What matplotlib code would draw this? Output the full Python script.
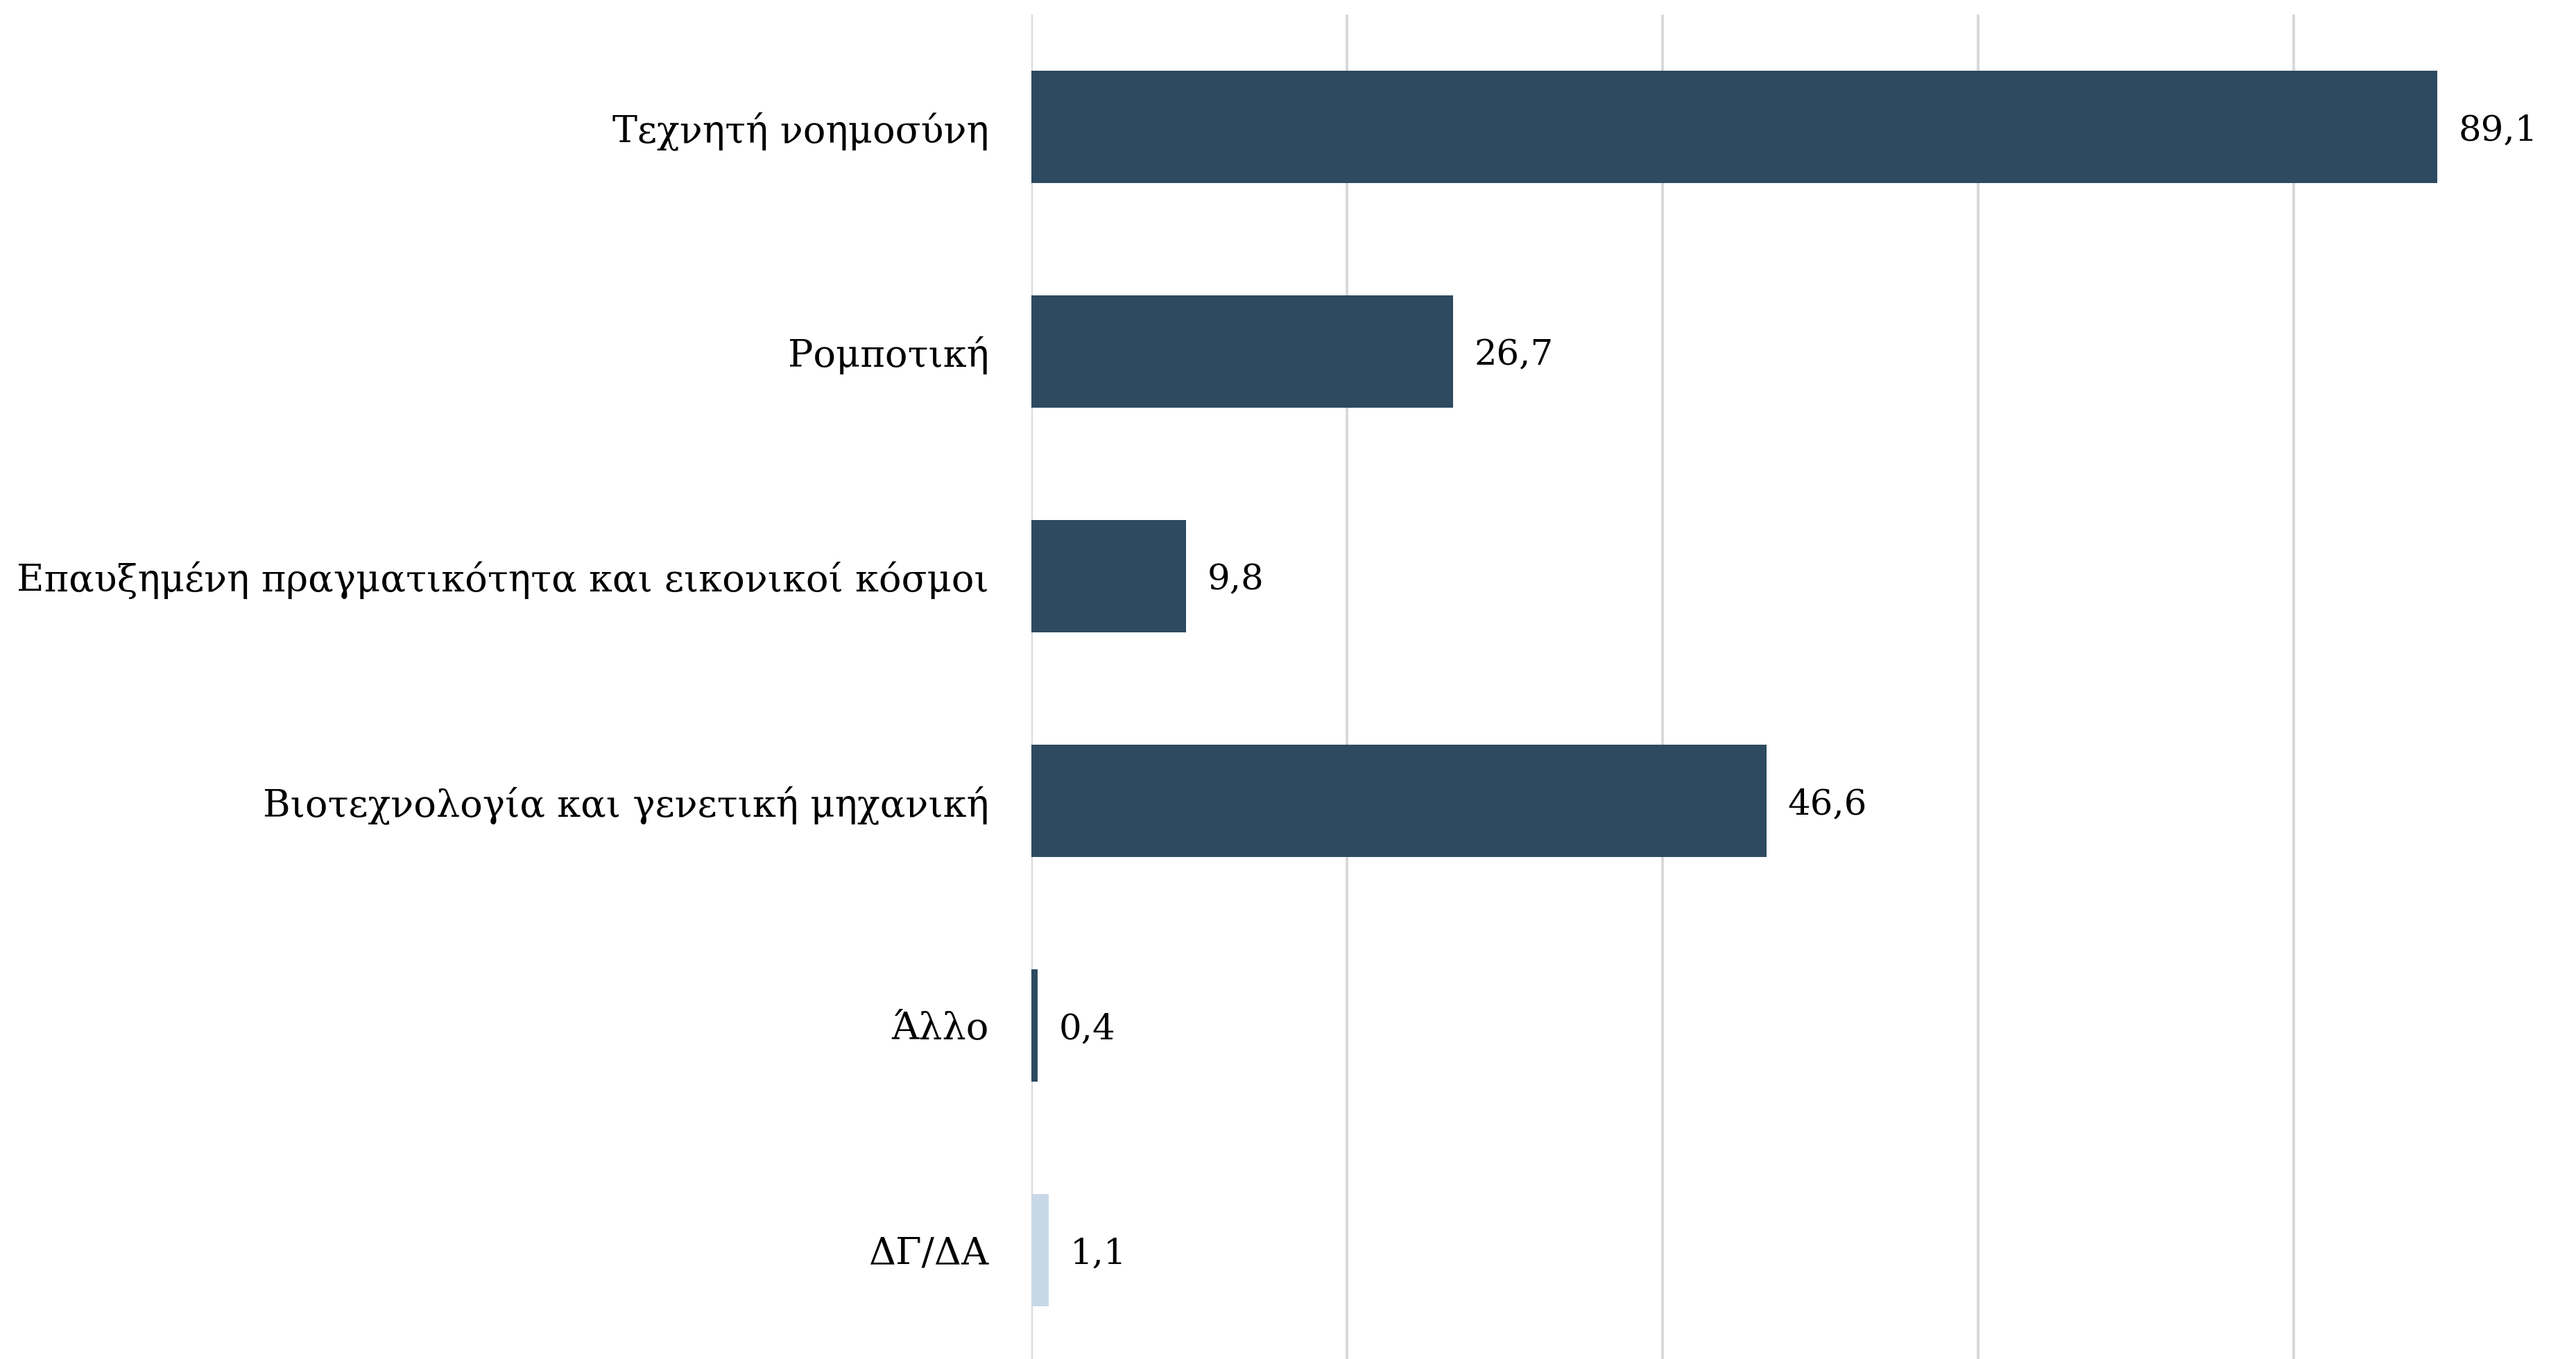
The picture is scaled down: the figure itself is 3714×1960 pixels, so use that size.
import matplotlib
matplotlib.use('Agg')
import matplotlib.pyplot as plt

# data
categories = ['Τεχνητή νοημοσύνη', 'Ρομποτική',
              'Επαυξημένη πραγματικότητα και εικονικοί κόσμοι',
              'Βιοτεχνολογία και γενετική μηχανική', 'Άλλο', 'ΔΓ/ΔΑ']
values = [89.1, 26.7, 9.8, 46.6, 0.4, 1.1]
value_labels = ['89,1', '26,7', '9,8', '46,6', '0,4', '1,1']
bar_colors = ['#2d4a60', '#2d4a60', '#2d4a60', '#2d4a60', '#2d4a60', '#c8d8e6']

plt.rcParams['font.family'] = ['DejaVu Serif']

fig = plt.figure(figsize=(18.57, 9.8), dpi=200)
ax = fig.add_axes([0.4004, 0.0, 0.6003, 0.9893])

y = list(range(len(categories)))
ax.barh(y, values, height=0.5, color=bar_colors, zorder=3)

for yi, v, lab in zip(y, values, value_labels):
    ax.annotate(lab, (v, yi), xytext=(11, -2), textcoords='offset points',
                va='center', ha='left', fontsize=18.5, color='black')

ax.set_xlim(0, 98)
ax.set_ylim(5.485, -0.5)
ax.set_xticks([0, 20, 40, 60, 80])
ax.xaxis.grid(True, color='#d9d9d9', linewidth=1.44, zorder=0)
ax.tick_params(axis='x', length=0, labelbottom=False)
ax.set_yticks(y)
ax.set_yticklabels(categories, fontsize=19.5)
ax.tick_params(axis='y', length=0, pad=22)
for s in ax.spines.values():
    s.set_visible(False)

fig.savefig('out.png', dpi=200, facecolor='white')
